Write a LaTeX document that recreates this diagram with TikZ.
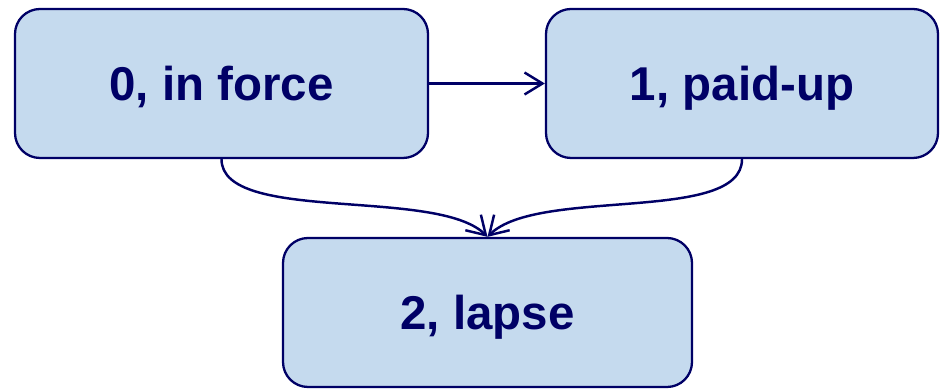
\documentclass[tikz,border=0pt]{standalone}
\usepackage{fontspec}
\setmainfont{Liberation Sans}
\usetikzlibrary{arrows.meta}
\definecolor{statefill}{RGB}{197,218,238}
\definecolor{statenavy}{RGB}{0,0,102}
\begin{document}
\begin{tikzpicture}[
    state/.style={draw=statenavy, line width=1.3pt, rounded corners=0.5cm, fill=statefill, minimum height=2.98cm, text height=0.68cm, text depth=0pt, text=statenavy, font=\fontsize{27}{32}\selectfont\bfseries},
    trans/.style={draw=statenavy, line width=1.4pt, -{Straight Barb[length=0.36cm, width=0.44cm]}}]
    \useasboundingbox (0,0) rectangle (18.8,7.8);

    % States
    \node[state, minimum width=8.26cm] (inforce) at (4.43,6.13) {0, in force};
    \node[state, minimum width=7.84cm] (paidup) at (14.84,6.13) {1, paid-up};
    \node[state, minimum width=8.18cm] (lapse) at (9.75,1.55) {2, lapse};

    % Transitions
    \draw[trans] (inforce.east) -- (paidup.west);
    \draw[trans] (inforce.south) .. controls +(0,-1.3) and +(-1.0,1.0) .. (lapse.north);
    \draw[trans] (paidup.south) .. controls +(0,-1.3) and +(1.0,1.0) .. (lapse.north);
\end{tikzpicture}
\end{document}
